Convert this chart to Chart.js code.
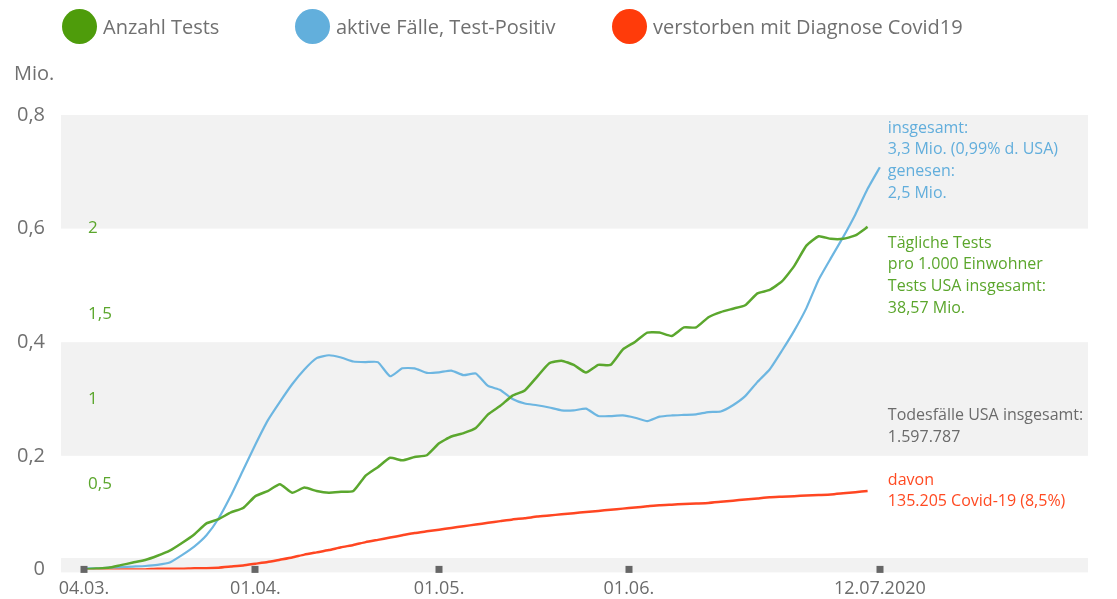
<!DOCTYPE html>
<html lang="de">
<head>
<meta charset="utf-8">
<title>USA Covid19</title>
<script src="https://cdn.jsdelivr.net/npm/chart.js@4.4.1/dist/chart.umd.min.js"></script>
<style>
  html, body { margin: 0; padding: 0; background: #fff; }
  #wrap { position: relative; width: 1117px; height: 599px; font-family: 'Open Sans', sans-serif; }
  #chart { position: absolute; left: 0; top: 0; }
  #legend { position: absolute; left: 62px; top: 9px; display: flex; }
  .item { display: flex; align-items: center; font-size: 20px; color: #707070; height: 35px; }
  .dot { width: 35px; height: 35px; border-radius: 50%; margin-right: 6px; }
  #unit { position: absolute; left: 14px; top: 59px; font-size: 20px; color: #707070; }
</style>
</head>
<body>
<div id="wrap">
  <canvas id="chart" width="1117" height="599"></canvas>
  <div id="legend"></div>
  <div id="unit">Mio.</div>
</div>
<script>
(() => {
    // Tage seit 04.03.2020
    const days = [0, 2, 4, 6, 8, 10, 12, 14, 16, 18,
        20, 22, 24, 26, 28, 30, 32, 34, 36, 38,
        40, 42, 44, 46, 48, 50, 52, 54, 56, 58,
        60, 62, 64, 66, 68, 70, 72, 74, 76, 78,
        80, 82, 84, 86, 88, 90, 92, 94, 96, 98,
        100, 102, 104, 106, 108, 110, 112, 114, 116, 118,
        120, 122, 124, 126, 128, 130];

    const tickDays = [0, 28, 58, 89, 130];
    const tickLabels = ["04.03.", "01.04.", "01.05.", "01.06.", "12.07.2020"];
    const leftTicks = [0, 0.2, 0.4, 0.6, 0.8];
    const testTicks = [0.5, 1, 1.5, 2];

    const seriesNames = ["Anzahl Tests", "aktive Fälle, Test-Positiv", "verstorben mit Diagnose Covid19"];

    // tägliche Tests pro 1.000 Einwohner (rechte Skala)
    const tests = [0.0, 0.005, 0.01, 0.025, 0.04, 0.055, 0.08, 0.11, 0.155, 0.205,
        0.27, 0.295, 0.335, 0.36, 0.43, 0.46, 0.50, 0.45, 0.48, 0.46,
        0.45, 0.455, 0.46, 0.55, 0.60, 0.655, 0.64, 0.66, 0.67, 0.74,
        0.78, 0.80, 0.83, 0.91, 0.96, 1.02, 1.05, 1.13, 1.21, 1.225,
        1.20, 1.155, 1.20, 1.20, 1.29, 1.335, 1.39, 1.39, 1.37, 1.42,
        1.42, 1.48, 1.51, 1.53, 1.55, 1.62, 1.64, 1.69, 1.78, 1.90,
        1.955, 1.94, 1.94, 1.96, 2.01, null];

    // aktive Fälle in Mio.
    const active = [0.002, 0.002, 0.003, 0.004, 0.005, 0.006, 0.008, 0.012, 0.025, 0.040,
        0.060, 0.090, 0.130, 0.175, 0.220, 0.262, 0.295, 0.326, 0.352, 0.372,
        0.377, 0.373, 0.366, 0.365, 0.365, 0.340, 0.354, 0.354, 0.346, 0.347,
        0.350, 0.342, 0.345, 0.323, 0.316, 0.300, 0.292, 0.289, 0.285, 0.280,
        0.280, 0.283, 0.270, 0.270, 0.271, 0.267, 0.261, 0.269, 0.271, 0.272,
        0.273, 0.277, 0.278, 0.289, 0.305, 0.330, 0.352, 0.385, 0.420, 0.460,
        0.510, 0.548, 0.585, 0.625, 0.670, 0.708];

    // Verstorbene in Mio.
    const deaths = [0, 0, 0, 0, 0, 0, 0.001, 0.001, 0.001, 0.002,
        0.002, 0.003, 0.005, 0.007, 0.010, 0.013, 0.017, 0.021, 0.026, 0.030,
        0.034, 0.039, 0.043, 0.048, 0.052, 0.056, 0.060, 0.064, 0.067, 0.070,
        0.073, 0.076, 0.079, 0.082, 0.085, 0.088, 0.090, 0.093, 0.095, 0.097,
        0.099, 0.101, 0.103, 0.105, 0.107, 0.109, 0.111, 0.113, 0.114, 0.115,
        0.116, 0.117, 0.119, 0.121, 0.123, 0.125, 0.127, 0.128, 0.129, 0.130,
        0.131, 0.132, 0.134, 0.136, 0.138, null];

    const GREEN = "#5ba72e", BLUE = "#6db6e1", RED = "#ff4622", GRAY = "#6b6b6b";
    const legendColors = ["#4e9c0b", "#62afdc", "#ff3b0a"];
    const legendWidths = [233, 317, null];

    // Texte rechts im Diagramm
    const notes = [
        { axis: "y", at: 0.777, color: "#62aedc", lines: ["insgesamt:", "3,3 Mio. (0,99% d. USA)", "genesen:", "2,5 Mio."] },
        { axis: "y2", at: 1.915, color: "#5ba62c", lines: ["Tägliche Tests", "pro 1.000 Einwohner", "Tests USA insgesamt:", "38,57 Mio."] },
        { axis: "y", at: 0.271, color: GRAY, lines: ["Todesfälle USA insgesamt:", "1.597.787"] },
        { axis: "y", at: 0.157, color: "#ff4a22", lines: ["davon", "135.205 Covid-19 (8,5%)"] }
    ];

    const bands = [[0.6, 0.8], [0.2, 0.4]];

    // Legende
    const legend = document.getElementById("legend");
    seriesNames.forEach((name, i) => {
        const item = document.createElement("div");
        item.className = "item";
        if (legendWidths[i]) item.style.width = legendWidths[i] + "px";
        item.innerHTML = `<span class="dot" style="background:${legendColors[i]}"></span>${name}`;
        legend.appendChild(item);
    });

    const bandPlugin = {
        id: "bands",
        beforeDatasetsDraw(chart) {
            const { ctx, chartArea: a, scales: { y, y2 } } = chart;
            ctx.save();
            ctx.fillStyle = "#f2f2f2";
            bands.forEach(([lo, hi]) => {
                const top = y.getPixelForValue(hi);
                ctx.fillRect(a.left, top, a.right - a.left, y.getPixelForValue(lo) - top);
            });
            const zTop = y.getPixelForValue(0.02);
            ctx.fillRect(a.left, zTop, a.right - a.left, y.getPixelForValue(0) + 3 - zTop);

            // Skala Tests (innen links)
            ctx.font = "17px 'Open Sans'";
            ctx.fillStyle = "#5ba62c";
            ctx.textBaseline = "middle";
            ctx.textAlign = "left";
            testTicks.forEach(v => {
                ctx.fillText(String(v).replace(".", ","), a.left + 27, y2.getPixelForValue(v));
            });
            ctx.restore();
        },
        afterDatasetsDraw(chart) {
            const { ctx, scales: { x, y } } = chart;
            ctx.save();
            ctx.fillStyle = "#666";
            const py = y.getPixelForValue(0);
            tickDays.forEach(d => {
                ctx.fillRect(Math.round(x.getPixelForValue(d)) - 3.5, py - 3.5, 7, 7);
            });
            // Anmerkungen
            ctx.font = "16px 'Open Sans'";
            ctx.textBaseline = "middle";
            ctx.textAlign = "left";
            const tx = x.getPixelForValue(days[days.length - 1]) + 8;
            notes.forEach(n => {
                const y0 = chart.scales[n.axis].getPixelForValue(n.at);
                ctx.fillStyle = n.color;
                n.lines.forEach((t, i) => ctx.fillText(t, tx, y0 + i * 21.7));
            });
            ctx.restore();
        }
    };

    Chart.defaults.font.family = "'Open Sans', sans-serif";

    new Chart(document.getElementById("chart"), {
        type: "line",
        data: {
            labels: days,
            datasets: [
                { label: seriesNames[0], data: tests, yAxisID: "y2", borderColor: GREEN, borderWidth: 2.5 },
                { label: seriesNames[1], data: active, yAxisID: "y", borderColor: BLUE, borderWidth: 2.2 },
                { label: seriesNames[2], data: deaths, yAxisID: "y", borderColor: RED, borderWidth: 2.5 }
            ].map(ds => Object.assign(ds, { pointRadius: 0, fill: false, tension: 0.15 }))
        },
        options: {
            responsive: false,
            animation: false,
            layout: { padding: { left: 1, right: 29, top: 115, bottom: -10 } },
            plugins: { legend: { display: false }, tooltip: { enabled: false } },
            scales: {
                x: {
                    type: "linear", min: -3.75, max: 164,
                    grid: { display: false, drawTicks: false }, border: { display: false },
                    afterBuildTicks: s => { s.ticks = tickDays.map(v => ({ value: v })); },
                    ticks: {
                        autoSkip: false, maxRotation: 0, padding: 9, color: GRAY, font: { size: 18 },
                        callback: (v, i) => tickLabels[i]
                    }
                },
                y: {
                    position: "left", min: 0, max: 0.8,
                    grid: { display: false, drawTicks: false }, border: { display: false },
                    afterBuildTicks: s => { s.ticks = leftTicks.map(v => ({ value: v })); },
                    ticks: {
                        padding: 16, color: "#707070", font: { size: 20 },
                        callback: v => v === 0 ? "0" : v.toFixed(1).replace(".", ",")
                    }
                },
                y2: { display: false, min: 0, max: 8 / 3 }
            }
        },
        plugins: [bandPlugin]
    });
})();
</script>
</body>
</html>
